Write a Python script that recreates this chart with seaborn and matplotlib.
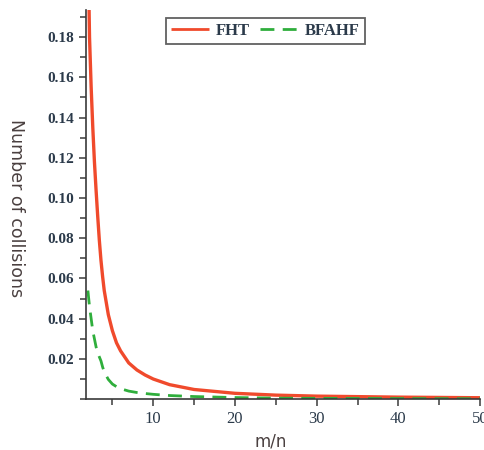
import seaborn as sns
import matplotlib.pyplot as plt
from matplotlib.ticker import MultipleLocator, FixedLocator
import pandas as pd

# Values
m_over_n = [2, 2.2, 2.4, 2.6, 2.8, 3.0, 3.2, 3.4, 3.6, 3.8, 4.0, 4.5, 5,
            5.5, 6, 7, 8, 9, 10, 12, 15, 20, 25, 30, 40, 50]
fht = [0.23, 0.18, 0.155, 0.135, 0.118, 0.104, 0.091, 0.079, 0.069, 0.061,
       0.054, 0.042, 0.034, 0.028, 0.024, 0.018, 0.0145, 0.012, 0.0100,
       0.0072, 0.0048, 0.0029, 0.0020, 0.0015, 0.0010, 0.0007]
bfahf = [0.054, 0.046, 0.040, 0.034, 0.030, 0.026, 0.023, 0.021, 0.019,
         0.016, 0.0135, 0.0098, 0.0075, 0.0062, 0.0052, 0.0040, 0.0033,
         0.0028, 0.0024, 0.0018, 0.0013, 0.0008, 0.0005, 0.0004, 0.0003,
         0.0002]
y_ticks = [0.02, 0.04, 0.06, 0.08, 0.10, 0.12, 0.14, 0.16, 0.18]
x_ticks = [10, 20, 30, 40, 50]

sns.set_style("white")

df = pd.DataFrame({
    'm/n': m_over_n * 2,
    'value': fht + bfahf,
    'method': ['FHT'] * len(fht) + ['BFAHF'] * len(bfahf),
})

fig = plt.figure(figsize=(4.85, 4.5), dpi=100)
ax = fig.add_axes([0.177, 0.113, 0.813, 0.865])

sns.lineplot(data=df, x='m/n', y='value', hue='method', style='method',
             palette={'FHT': '#f04a2c', 'BFAHF': '#2fae3c'},
             dashes={'FHT': (1, 0), 'BFAHF': (5, 3)},
             linewidth=2, ax=ax)
ax.lines[0].set_linewidth(2.4)

ax.set_xlim(1.75, 50)
ax.set_ylim(0, 0.1935)
ax.xaxis.set_major_locator(FixedLocator(x_ticks))
ax.xaxis.set_minor_locator(MultipleLocator(5))
ax.yaxis.set_major_locator(FixedLocator(y_ticks))
ax.yaxis.set_minor_locator(MultipleLocator(0.01))

for s in ['top', 'right']:
    ax.spines[s].set_visible(False)
for s in ['left', 'bottom']:
    ax.spines[s].set_color('#3a3a3a')
    ax.spines[s].set_linewidth(1.2)

ax.tick_params(which='both', direction='out', color='#3a3a3a', width=1.1,
               left=True, bottom=True)
ax.tick_params(which='major', length=5)
ax.tick_params(which='minor', length=4)
ax.set_yticklabels([f'{t:.2f}' for t in y_ticks], family='Liberation Serif',
                   fontweight='bold', fontsize=11, color='#2b3a4a')
ax.set_xticklabels([str(t) for t in x_ticks], family='Liberation Serif',
                   fontsize=12, color='#2b3a4a')

ax.set_xlabel('m/n', fontsize=12, color='#4a4040')
ax.xaxis.set_label_coords(0.47, -0.085)
ax.set_ylabel('Number of collisions', fontsize=12.5, color='#4a4040',
              rotation=270, va='center')
ax.yaxis.set_label_coords(-0.178, 0.49)

handles, labels = ax.get_legend_handles_labels()
leg = ax.legend(handles, labels, loc='upper center', bbox_to_anchor=(0.455, 1.0),
                ncol=2, frameon=True, fancybox=False, handlelength=2.3,
                columnspacing=0.6, handletextpad=0.4, borderpad=0.3,
                prop={'family': 'Liberation Serif', 'weight': 'bold',
                      'size': 12})
leg.get_frame().set_edgecolor('#3a3a3a')
leg.get_frame().set_linewidth(1.3)
for t in leg.get_texts():
    t.set_color('#2b3a4a')

plt.savefig('out.png', dpi=100)
